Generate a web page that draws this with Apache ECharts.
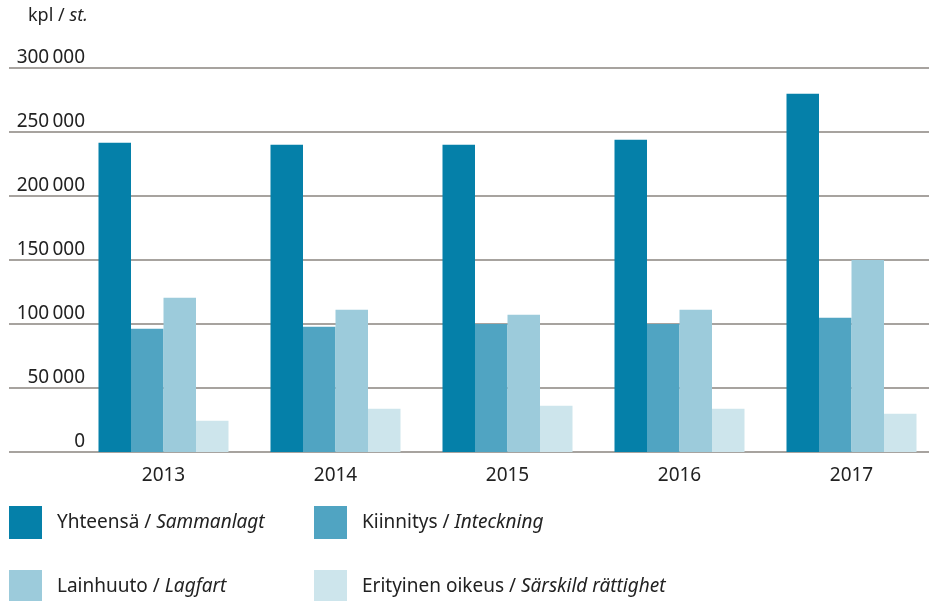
<html>
<head>
    <meta http-equiv="content-type" content="text/html; charset=utf-8">
    <title>Kirjaukset</title>
    <script src="https://cdn.jsdelivr.net/npm/echarts@6/dist/echarts.min.js"></script>
    <style>
        body { margin: 0; background: #fff; }
        #echart { width: 929px; height: 601px; }
    </style>
</head>

<body>
    <div id='echart'></div>
    <script type="text/javascript">
        var years = ['2013', '2014', '2015', '2016', '2017'];
        var yhteensa = [241600, 240000, 240100, 244000, 279900];
        var kiinnitys = [96300, 97900, 100000, 100000, 104900];
        var lainhuuto = [120500, 111200, 107300, 111200, 150000];
        var erityinen = [24500, 33800, 36200, 33800, 29900];
        var names = ['Yhteensä / Sammanlagt', 'Kiinnitys / Inteckning', 'Lainhuuto / Lagfart', 'Erityinen oikeus / Särskild rättighet'];
        var colors = ['#0580a9', '#50a4c2', '#9ccbdb', '#cde5ec'];

        var font = 'Noto Sans';
        var rich = {
            a: { fontFamily: font, fontSize: 19, color: '#222', padding: [0, 0, 0, 10] },
            b: { fontFamily: font, fontSize: 19, color: '#222', fontStyle: 'italic' }
        };
        function fmtName(name) {
            var p = name.split(' / ');
            return '{a|' + p[0] + ' / }{b|' + p[1] + '}';
        }
        function legendAt(i, left, top) {
            return {
                data: [names[i]], left: left, top: top, padding: 0,
                icon: 'rect', itemWidth: 33, itemHeight: 33,
                formatter: fmtName, textStyle: { rich: rich },
                selectedMode: false
            };
        }

        var chart = echarts.init(document.getElementById("echart"));
        var series = [yhteensa, kiinnitys, lainhuuto, erityinen].map(function(d, i) {
            return {
                name: names[i], type: 'bar', data: d,
                xAxisIndex: 1, yAxisIndex: 1,
                barWidth: 32.5, barGap: '0%',
                itemStyle: { color: colors[i] }
            };
        });

        chart.setOption({
            animation: false,
            textStyle: { fontFamily: font },
            title: {
                left: 28, top: 7, padding: 0,
                text: '{a|kpl / }{b|st.}',
                textStyle: { fontWeight: 'normal', rich: {
                    a: { fontFamily: font, fontSize: 18, color: '#222', fontWeight: 'normal' },
                    b: { fontFamily: font, fontSize: 18, color: '#222', fontWeight: 'normal', fontStyle: 'italic' }
                } }
            },
            legend: [
                legendAt(0, 9, 506), legendAt(1, 314, 506),
                legendAt(2, 9, 570), legendAt(3, 314, 570)
            ],
            grid: [
                { left: 9, right: 0, top: 68, bottom: 149, outerBoundsMode: 'none' },
                { left: 77.5, width: 860, top: 68, bottom: 149, outerBoundsMode: 'none' }
            ],
            xAxis: [
                { gridIndex: 0, type: 'category', data: years, show: false },
                {
                    gridIndex: 1, type: 'category', data: years,
                    axisLine: { show: false }, axisTick: { show: false },
                    axisLabel: { color: '#222', fontSize: 19, margin: 14 }
                }
            ],
            yAxis: [
                {
                    gridIndex: 0, type: 'value', min: 0, max: 300000, interval: 50000,
                    axisLine: { show: false }, axisTick: { show: false },
                    splitLine: { lineStyle: { color: '#8a847f', width: 1.5 } },
                    axisLabel: {
                        inside: true, align: 'right', margin: 76,
                        verticalAlign: 'bottom', padding: [0, 0, 1, 0],
                        color: '#222', fontSize: 19,
                        formatter: function(v) {
                            var s = String(v);
                            return s.length > 3 ? s.slice(0, -3) + '\u2009' + s.slice(-3) : s;
                        }
                    }
                },
                { gridIndex: 1, type: 'value', min: 0, max: 300000, show: false }
            ],
            series: series
        });
    </script>
</body>
</html>
